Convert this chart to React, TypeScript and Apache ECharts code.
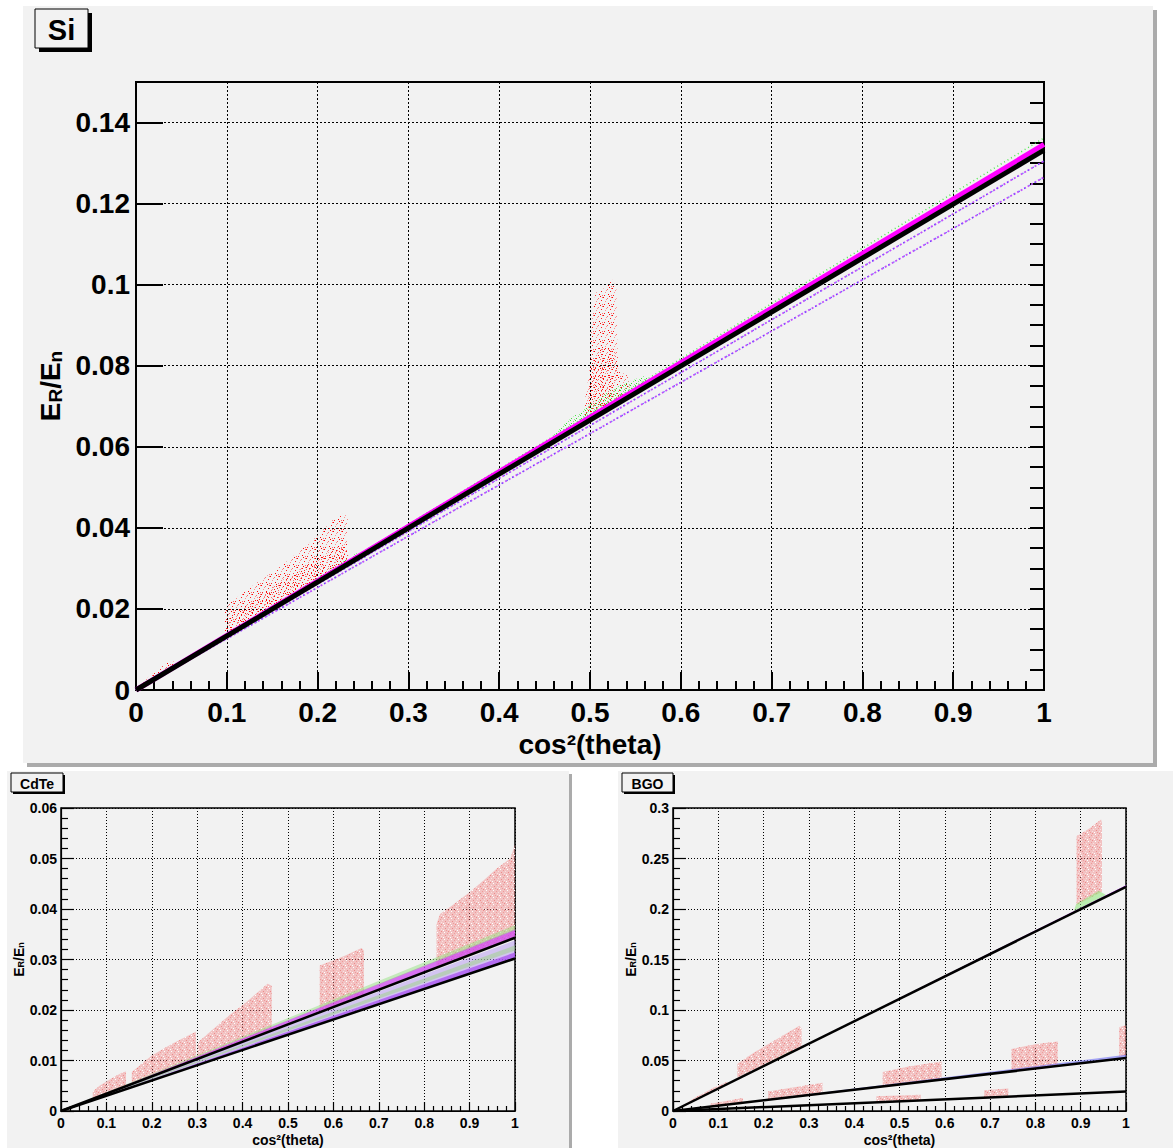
import React, { useEffect, useRef } from "react";
import * as echarts from "echarts";

const W = 1173;
const H = 1148;
const FONT = "'Liberation Sans', Arial, Helvetica, sans-serif";

// ---------- Si ----------
const siYMax = 0.15;
const siRecoilSlope = 0.1332;
const siMagentaSlope = 0.1346;
const siGreenSlope = 0.1362;
const siIsotopeSlopes = [0.1305, 0.1265];
const siRedClouds: number[][][] = [
  [[0.005, 0.0009], [0.01, 0.0025], [0.03, 0.006], [0.04, 0.0075], [0.043, 0.0065], [0.04, 0.0058], [0.005, 0.0008]],
  [[0.098, 0.0131], [0.098, 0.019], [0.1, 0.021], [0.122, 0.0247], [0.159, 0.0304], [0.195, 0.037], [0.217, 0.042], [0.23, 0.0437], [0.233, 0.042], [0.232, 0.0353], [0.234, 0.0315], [0.2, 0.0272], [0.15, 0.0205], [0.1, 0.0137]],
  [[0.494, 0.0665], [0.495, 0.072], [0.5, 0.08], [0.502, 0.09], [0.506, 0.098], [0.515, 0.099], [0.525, 0.1012], [0.529, 0.099], [0.53, 0.085], [0.531, 0.079], [0.541, 0.0775], [0.545, 0.0735], [0.52, 0.07]],
];
// denser cores of the Si clouds
const siRedCores: number[][][] = [
  [[0.1, 0.0137], [0.1, 0.0175], [0.15, 0.0255], [0.2, 0.0325], [0.233, 0.0365], [0.234, 0.0315], [0.2, 0.0272], [0.15, 0.0205]],
  [[0.497, 0.0668], [0.5, 0.078], [0.51, 0.085], [0.528, 0.084], [0.531, 0.078], [0.52, 0.0702]],
];
const siGreenClouds: number[][][] = [
  [[0.12, 0.0165], [0.18, 0.025], [0.24, 0.0335], [0.245, 0.0338], [0.24, 0.0322], [0.12, 0.016]],
  [[0.44, 0.059], [0.47, 0.0655], [0.5, 0.0705], [0.53, 0.075], [0.56, 0.0775], [0.57, 0.0765], [0.56, 0.075], [0.44, 0.0588]],
];

// ---------- CdTe ----------
const cdteYMax = 0.06;
const cdteLineSlopes = [0.0343, 0.0302];
// [lower edge slope, upper edge slope] of the scatter bands along the lines
const cdteBandEdges = [
  [0.0302, 0.0338],
  [0.0318, 0.0328],
  [0.0343, 0.036],
  [0.0302, 0.0314],
  [0.0358, 0.0368],
];
const cdteRedClouds: number[][][] = [
  [[0.07, 0.0024], [0.07, 0.0038], [0.085, 0.005], [0.11, 0.0064], [0.135, 0.0076], [0.143, 0.0078], [0.143, 0.0049]],
  [[0.156, 0.0054], [0.156, 0.0077], [0.2, 0.011], [0.245, 0.0133], [0.297, 0.0157], [0.297, 0.0103]],
  [[0.3, 0.0103], [0.302, 0.0136], [0.37, 0.0189], [0.405, 0.0213], [0.455, 0.0252], [0.464, 0.0248], [0.464, 0.016]],
  [[0.57, 0.0196], [0.57, 0.0288], [0.624, 0.0307], [0.662, 0.0323], [0.667, 0.0318], [0.667, 0.0229]],
  [[0.827, 0.0284], [0.827, 0.037], [0.835, 0.039], [0.86, 0.0406], [0.9, 0.0433], [0.935, 0.046], [0.96, 0.048], [0.99, 0.05], [1.0, 0.0528], [1.0, 0.0345]],
];

// ---------- BGO ----------
const bgoYMax = 0.3;
const bgoLineSlopes = [0.222, 0.0525, 0.0192];
const bgoBandEdges = [
  [0.222, 0.2235],
  [0.0525, 0.0556],
  [0.0192, 0.0198],
];
const bgoRedClouds: number[][][] = [
  [[0.02, 0.005], [0.05, 0.0135], [0.09, 0.023], [0.12, 0.029], [0.12, 0.027], [0.02, 0.0045]],
  [[0.142, 0.033], [0.142, 0.0467], [0.18, 0.0582], [0.23, 0.0714], [0.279, 0.0845], [0.284, 0.0815], [0.284, 0.064], [0.22, 0.0495]],
  [[0.083, 0.0045], [0.083, 0.0072], [0.154, 0.0128], [0.154, 0.0082]],
  [[0.21, 0.0112], [0.21, 0.0194], [0.33, 0.028], [0.33, 0.0175]],
  [[0.463, 0.025], [0.463, 0.0385], [0.52, 0.044], [0.593, 0.049], [0.593, 0.0315]],
  [[0.747, 0.04], [0.747, 0.0615], [0.8, 0.066], [0.849, 0.0688], [0.849, 0.045]],
  [[0.985, 0.054], [0.985, 0.0829], [1.0, 0.085], [1.0, 0.055]],
  [[0.449, 0.0088], [0.449, 0.0145], [0.547, 0.016], [0.547, 0.0107]],
  [[0.687, 0.0135], [0.687, 0.0205], [0.74, 0.0222], [0.74, 0.0145]],
  [[0.891, 0.204], [0.891, 0.272], [0.92, 0.28], [0.945, 0.2885], [0.947, 0.285], [0.947, 0.217]],
];
const bgoGreenClouds: number[][][] = [
  [[0.885, 0.198], [0.89, 0.205], [0.94, 0.218], [0.955, 0.214], [0.95, 0.211], [0.885, 0.1965]],
  [[0.2, 0.0452], [0.26, 0.0595], [0.27, 0.059], [0.2, 0.0445]],
];

// ---------- helpers ----------
function stipple(colors: string[], size: number, dots: number[][]) {
  const c = document.createElement("canvas");
  c.width = size;
  c.height = size;
  const ctx = c.getContext("2d")!;
  dots.forEach(([x, y], i) => {
    ctx.fillStyle = colors[i % colors.length];
    ctx.fillRect(x, y, 1, 1);
  });
  return { image: c.toDataURL(), repeat: "repeat", imageWidth: size, imageHeight: size };
}

function polygonSeries(poly: number[][], xi: number, yi: number, fill: any, z = 2) {
  return {
    type: "custom",
    xAxisIndex: xi,
    yAxisIndex: yi,
    data: [[0, 0]],
    silent: true,
    z,
    renderItem: (_p: any, api: any) => ({
      type: "polygon",
      shape: { points: poly.map((pt) => api.coord(pt)) },
      style: { fill, stroke: null },
    }),
  };
}

function bandSeries(edges: number[], xi: number, yi: number, fill: string, z = 3) {
  return polygonSeries([[0, 0], [1, edges[1]], [1, edges[0]]], xi, yi, fill, z);
}

function lineSeries(slope: number, xi: number, yi: number, color: string, width: number, type: any = "solid", z = 5) {
  return {
    type: "line",
    xAxisIndex: xi,
    yAxisIndex: yi,
    data: [[0, 0], [1, slope]],
    symbol: "none",
    silent: true,
    z,
    lineStyle: { color, width, type, cap: "butt" },
  };
}

function xAxisFor(gridIndex: number, fs: number, tickLen: number, minorLen: number, lw: number, margin: number, nameGap: number, dash: number[]) {
  return {
    type: "value",
    gridIndex,
    min: 0,
    max: 1,
    interval: 0.1,
    name: "cos²(theta)",
    nameLocation: "middle",
    nameGap,
    nameTextStyle: { fontSize: fs, fontWeight: "bold", color: "#000", fontFamily: FONT },
    axisLine: { show: true, lineStyle: { color: "#000", width: lw } },
    axisTick: { show: true, inside: true, length: tickLen, lineStyle: { color: "#000", width: lw } },
    minorTick: { show: true, splitNumber: 5, length: minorLen, lineStyle: { color: "#000", width: lw } },
    axisLabel: { fontSize: fs, fontWeight: "bold", color: "#000", fontFamily: FONT, margin },
    splitLine: { show: true, lineStyle: { color: "#000", width: 1, type: dash } },
  };
}

function yAxisFor(gridIndex: number, max: number, interval: number, fs: number, subFs: number, subPad: number, tickLen: number, lw: number, margin: number, nameGap: number, dash: number[], minorSplit: number, minorLen: number) {
  return {
    type: "value",
    gridIndex,
    min: 0,
    max,
    interval,
    name: "{a|E}{s|R}{a|/E}{s|n}",
    nameLocation: "middle",
    nameRotate: 90,
    nameGap,
    nameTextStyle: {
      color: "#000",
      rich: {
        a: { fontSize: fs, fontWeight: "bold", fontFamily: FONT, color: "#000", lineHeight: fs, verticalAlign: "top" },
        s: { fontSize: subFs, fontWeight: "bold", fontFamily: FONT, color: "#000", lineHeight: subFs, padding: [subPad, 0, 0, 0], verticalAlign: "bottom" },
      },
    },
    axisLine: { show: true, lineStyle: { color: "#000", width: lw } },
    axisTick: { show: true, inside: true, length: tickLen, lineStyle: { color: "#000", width: lw } },
    minorTick: { show: minorSplit > 0, splitNumber: minorSplit || 5, length: minorLen, lineStyle: { color: "#000", width: lw } },
    axisLabel: { fontSize: fs, fontWeight: "bold", color: "#000", fontFamily: FONT, margin, showMaxLabel: minorSplit > 0 },
    splitLine: { show: true, lineStyle: { color: "#000", width: 1, type: dash } },
  };
}

function pad(x: number, y: number, w: number, h: number, shadow: number) {
  return [
    { type: "rect", z: -100, shape: { x: x + shadow, y: y + shadow, width: w, height: h }, style: { fill: "#ababab" } },
    { type: "rect", z: -99, shape: { x, y, width: w, height: h }, style: { fill: "#f2f2f2" } },
  ];
}

function titleBox(x: number, y: number, w: number, h: number, off: number, text: string, fs: number) {
  return [
    { type: "rect", z: 100, shape: { x: x + off, y: y + off, width: w, height: h }, style: { fill: "#000" } },
    { type: "rect", z: 101, shape: { x, y, width: w, height: h }, style: { fill: "#f2f2f2", stroke: "#000", lineWidth: 1 } },
    {
      type: "text",
      z: 102,
      x: x + w / 2,
      y: y + h / 2 + 1,
      style: { text, fontSize: fs, fontWeight: "bold", fontFamily: FONT, fill: "#000", align: "center", verticalAlign: "middle" },
    },
  ];
}

export default function App() {
  const ref = useRef<HTMLDivElement>(null);

  useEffect(() => {
    if (!ref.current) return;
    const chart = echarts.init(ref.current, null, { renderer: "svg", width: W, height: H });

    const redDots = stipple(["#ff0000", "#ff6a6a", "#ff2020", "#ff9090"], 9, [
      [0, 0], [4, 1], [7, 3], [2, 4], [5, 6], [8, 7], [1, 7], [3, 2], [6, 8], [8, 0],
    ]);
    const redCoreDots = stipple(["#ff1010", "#ff7070"], 7, [
      [1, 1], [5, 2], [3, 5], [6, 6], [0, 4],
    ]);
    const greenDots = stipple(["#30e030", "#80f080"], 5, [
      [0, 0], [3, 1], [1, 3], [4, 4],
    ]);
    // sparse speckle laid over the flat pink of the dense clouds
    const pinkSpeckle = stipple(["#ee8a8a", "#ffffff", "#f09a9a", "#fbe0e0"], 7, [
      [0, 0], [3, 1], [6, 2], [1, 3], [4, 4], [2, 6], [5, 6], [0, 5],
    ]);
    const pinkFlat = "rgba(242,128,128,0.42)";

    const series: any[] = [];

    // Si panel
    siRedClouds.forEach((p) => series.push(polygonSeries(p, 0, 0, redDots, 2)));
    siRedCores.forEach((p) => series.push(polygonSeries(p, 0, 0, redCoreDots, 2)));
    siGreenClouds.forEach((p) => series.push(polygonSeries(p, 0, 0, greenDots, 3)));
    siIsotopeSlopes.forEach((s) => {
      series.push(lineSeries(s, 0, 0, "#c050ff", 1.8, [2, 2], 4));
      series.push(lineSeries(s, 0, 0, "#5050ff", 1.2, [1, 5], 4));
    });
    series.push(lineSeries(siGreenSlope, 0, 0, "#50e850", 1.5, [1, 3], 4));
    series.push(lineSeries(siMagentaSlope, 0, 0, "#ff00ff", 5, "solid", 5));
    series.push(lineSeries(siRecoilSlope, 0, 0, "#000", 5, "solid", 6));

    // CdTe panel
    cdteRedClouds.forEach((p) => {
      series.push(polygonSeries(p, 1, 2, pinkFlat, 2));
      series.push(polygonSeries(p, 1, 2, pinkSpeckle, 2));
    });
    const cdteBandFills = [
      "rgba(180,150,240,0.5)",
      "rgba(150,215,120,0.45)",
      "rgba(205,70,240,0.75)",
      "rgba(170,80,240,0.75)",
      "rgba(150,225,130,0.5)",
    ];
    cdteBandEdges.forEach((e, i) => series.push(bandSeries(e, 1, 2, cdteBandFills[i], 3)));
    cdteLineSlopes.forEach((s) => series.push(lineSeries(s, 1, 2, "#000", 2.5, "solid", 6)));

    // BGO panel
    bgoRedClouds.forEach((p) => {
      series.push(polygonSeries(p, 2, 3, pinkFlat, 2));
      series.push(polygonSeries(p, 2, 3, pinkSpeckle, 2));
    });
    bgoGreenClouds.forEach((p) => series.push(polygonSeries(p, 2, 3, "rgba(140,230,120,0.55)", 3)));
    const bgoBandFills = ["rgba(190,40,255,0.9)", "rgba(110,110,245,0.6)", "rgba(150,60,255,0.8)"];
    bgoBandEdges.forEach((e, i) => series.push(bandSeries(e, 2, 3, bgoBandFills[i], 3)));
    bgoLineSlopes.forEach((s) => series.push(lineSeries(s, 2, 3, "#000", 2.5, "solid", 6)));

    const siY = yAxisFor(0, siYMax, 0.02, 28, 19, 22, 27, 2, 6, 70, [2, 2], 0, 0);
    const siYMinor = {
      type: "value",
      gridIndex: 0,
      min: 0,
      max: siYMax,
      interval: 0.005,
      axisLine: { show: false },
      axisTick: { show: true, inside: true, length: 14, lineStyle: { color: "#000", width: 2 } },
      axisLabel: { show: false },
      splitLine: { show: false },
    };

    chart.setOption({
      animation: false,
      backgroundColor: "#ffffff",
      textStyle: { fontFamily: FONT },
      graphic: [
        ...pad(23, 6, 1130, 757, 4),
        ...pad(7, 771, 562, 400, 3),
        ...pad(618, 771, 560, 400, 3),
        ...titleBox(35, 9, 53, 39, 4, "Si", 29),
        ...titleBox(11, 773, 52, 19, 2, "CdTe", 14),
        ...titleBox(622, 773, 51, 19, 2, "BGO", 14),
      ],
      grid: [
        { left: 136, top: 82, width: 908, height: 608, show: true, borderColor: "#000", borderWidth: 2, backgroundColor: "transparent" },
        { left: 61, top: 808, width: 454, height: 305, show: true, borderColor: "#000", borderWidth: 1.5, backgroundColor: "transparent" },
        { left: 673, top: 808, width: 453, height: 304, show: true, borderColor: "#000", borderWidth: 1.5, backgroundColor: "transparent" },
      ],
      xAxis: [
        xAxisFor(0, 28, 18, 9, 2, 8, 40, [2, 2]),
        xAxisFor(1, 14, 9, 5, 1.2, 5, 22, [1, 2]),
        xAxisFor(2, 14, 9, 5, 1.2, 5, 22, [1, 2]),
      ],
      yAxis: [
        siY,
        siYMinor,
        yAxisFor(1, cdteYMax, 0.01, 14, 9, 11, 13, 1.2, 4, 33, [1, 2], 5, 7),
        yAxisFor(2, bgoYMax, 0.05, 14, 9, 11, 13, 1.2, 4, 35, [1, 2], 5, 7),
      ],
      series,
    });

    return () => chart.dispose();
  }, []);

  return (
    <div
      ref={ref}
      style={{ position: "absolute", left: 0, top: 0, width: W, height: H, background: "#fff" }}
    />
  );
}
